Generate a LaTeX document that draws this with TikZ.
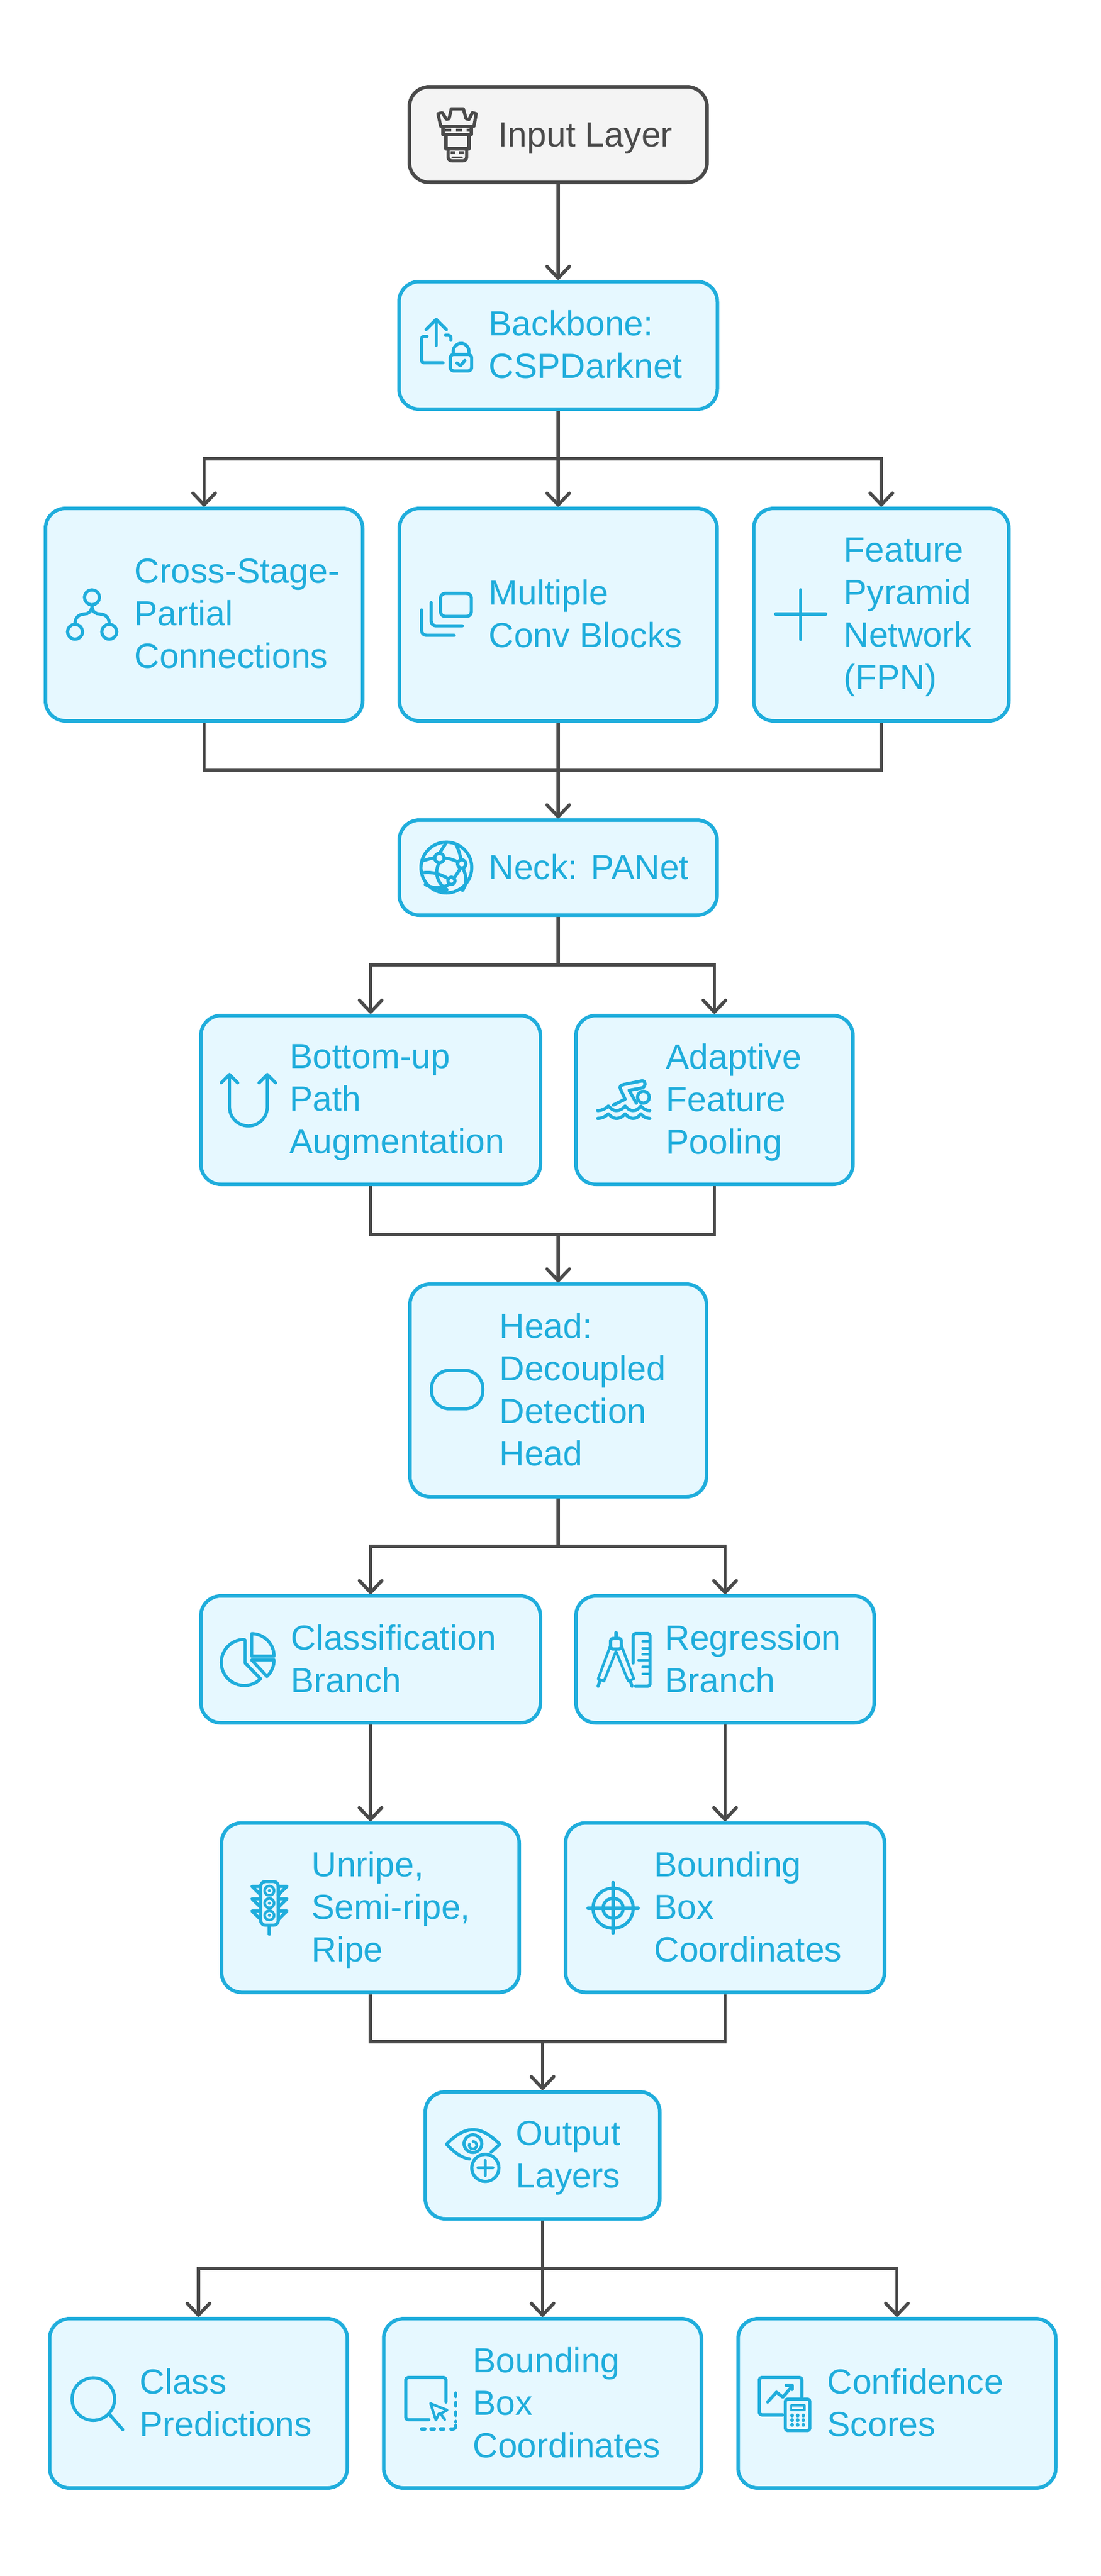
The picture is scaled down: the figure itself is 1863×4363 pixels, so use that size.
\documentclass[tikz,border=0pt]{standalone}
\usepackage{fontspec}
\setmainfont{Liberation Sans}
\usetikzlibrary{arrows.meta}
\definecolor{skyline}{HTML}{1FADDC}
\definecolor{skyfill}{HTML}{E6F8FF}
\definecolor{inkgray}{HTML}{4A4A4A}
\definecolor{palegray}{HTML}{F4F4F4}
\begin{document}
\begin{tikzpicture}[x=0.5pt,y=-0.5pt]
        \tikzset{block/.style = {shape=rectangle,draw=skyline,fill=skyfill,line width=3pt,rounded corners=17pt}}
        \tikzset{blockg/.style = {block,draw=inkgray,fill=palegray}}
        \tikzset{txt/.style = {anchor=west,inner sep=0pt,align=left,text=skyline,font=\fontsize{29.5pt}{36pt}\selectfont,execute at begin node=\strut,execute at end node=\strut}}
        \tikzset{txtg/.style = {txt,text=inkgray}}
        \tikzset{icon/.style = {draw=skyline,line width=2.7pt,line cap=round,line join=round}}
        \tikzset{icong/.style = {icon,draw=inkgray}}
        \tikzset{edge/.style = {draw=inkgray,line width=2.8pt}}
        \tikzset{edged/.style = {edge,-{Straight Barb[length=10pt,width=19pt,round]}}}
        \useasboundingbox (0,0) rectangle (1863,4363);
        % boxes
        \node[blockg,minimum width=252pt,minimum height=81pt] (inp) at (945,228) {};
        \node[block,minimum width=269.5pt,minimum height=108pt] (back) at (945,585) {};
        \node[block,minimum width=268.5pt,minimum height=180pt] (cross) at (345.5,1041) {};
        \node[block,minimum width=269pt,minimum height=180pt] (multi) at (945,1041) {};
        \node[block,minimum width=216pt,minimum height=180pt] (fpn) at (1492,1041) {};
        \node[block,minimum width=269pt,minimum height=80.5pt] (neck) at (945,1469.5) {};
        \node[block,minimum width=287.5pt,minimum height=143pt] (botup) at (627.5,1863) {};
        \node[block,minimum width=234.5pt,minimum height=143pt] (adapt) at (1209.5,1863) {};
        \node[block,minimum width=251pt,minimum height=180pt] (head) at (945,2355) {};
        \node[block,minimum width=287.5pt,minimum height=107.5pt] (clas) at (627.5,2810.5) {};
        \node[block,minimum width=252.5pt,minimum height=107.5pt] (regr) at (1227.5,2810.5) {};
        \node[block,minimum width=252pt,minimum height=143.5pt] (unrp) at (627,3231) {};
        \node[block,minimum width=270pt,minimum height=143.5pt] (bbox) at (1227.5,3231) {};
        \node[block,minimum width=198.5pt,minimum height=107.5pt] (outp) at (918.5,3650.5) {};
        \node[block,minimum width=252pt,minimum height=143.5pt] (clp) at (336,4070.5) {};
        \node[block,minimum width=269pt,minimum height=143.5pt] (bbc) at (918.5,4070.5) {};
        \node[block,minimum width=269pt,minimum height=143.5pt] (conf) at (1518.5,4070.5) {};
        % labels
        \node[txtg] (inpt) at (843,234) {Input Layer};
        \node[txt] (backt) at (827,594) {Backbone:\\CSPDarknet};
        \node[txt] (crosst) at (227,1050) {Cross-Stage-\\Partial\\Connections};
        \node[txt] (multit) at (827,1050) {Multiple\\Conv Blocks};
        \node[txt] (fpnt) at (1428,1050) {Feature\\Pyramid\\Network\\(FPN)};
        \node[txt] (neckt) at (827,1475.5) {Neck: PANet};
        \node[txt] (botupt) at (490,1872) {Bottom-up\\Path\\Augmentation};
        \node[txt] (adaptt) at (1127,1872) {Adaptive\\Feature\\Pooling};
        \node[txt] (headt) at (845,2364) {Head:\\Decoupled\\Detection\\Head};
        \node[txt] (clast) at (492,2819.5) {Classification\\Branch};
        \node[txt] (regrt) at (1125,2819.5) {Regression\\Branch};
        \node[txt] (unrpt) at (527,3240) {Unripe,\\Semi-ripe,\\Ripe};
        \node[txt] (bboxt) at (1107,3240) {Bounding\\Box\\Coordinates};
        \node[txt] (outpt) at (873,3659.5) {Output\\Layers};
        \node[txt] (clpt) at (236,4079.5) {Class\\Predictions};
        \node[txt] (bbct) at (800,4079.5) {Bounding\\Box\\Coordinates};
        \node[txt] (conft) at (1400,4079.5) {Confidence\\Scores};
        % junctions
        \coordinate (busa) at (945,777);
        \coordinate (busb) at (945,1304);
        \coordinate (busc) at (945,1634);
        \coordinate (busd) at (945,2091);
        \coordinate (buse) at (945,2619);
        \coordinate (busf) at (918.5,3458);
        \coordinate (busg) at (918.5,3842);
        %edges undirected
        \draw[edge] (back) -- (busa);
        \draw[edge] (cross) |- (busb);
        \draw[edge] (multi) -- (busb);
        \draw[edge] (fpn) |- (busb);
        \draw[edge] (neck) -- (busc);
        \draw[edge] (botup) |- (busd);
        \draw[edge] (adapt) |- (busd);
        \draw[edge] (head) -- (buse);
        \draw[edge] (unrp) |- (busf);
        \draw[edge] (bbox) |- (busf);
        \draw[edge] (outp) -- (busg);
        %edges directed
        \draw[edged] (inp) -- (back);
        \draw[edged] (busa) -| (cross);
        \draw[edged] (busa) -- (multi);
        \draw[edged] (busa) -| (fpn);
        \draw[edged] (busb) -- (neck);
        \draw[edged] (busc) -| (botup);
        \draw[edged] (busc) -| (adapt);
        \draw[edged] (busd) -- (head);
        \draw[edged] (buse) -| (clas);
        \draw[edged] (buse) -| (regr);
        \draw[edged] (clas) -- (unrp);
        \draw[edged] (regr) -- (bbox);
        \draw[edged] (busf) -- (outp);
        \draw[edged] (busg) -| (clp);
        \draw[edged] (busg) -- (bbc);
        \draw[edged] (busg) -| (conf);
        % icon input
        \draw[icong] (741.5,192.7) -- (748.8,190.8) -- (755.7,202.3) -- (760.3,201) -- (764.1,184.3) -- (784.4,184.3) -- (789,201) -- (794,202.3) -- (799.7,190.8) -- (806.2,192.7) -- (802.4,213.8) -- (746.1,213.8) -- cycle;
        \draw[icong] (750,213.8) -- (750,227.9) -- (797.8,227.9) -- (797.8,213.8);
        \draw[icong,line cap=butt,dash pattern=on 5pt off 4pt] (754,220.5) -- (796,220.5);
        \draw[icong] (755,228) -- (755,252) -- (794,252) -- (794,228);
        \draw[icong,rounded corners=3pt] (758.7,252) -- (758.7,272.3) -- (790,272.3) -- (790,252);
        \draw[icong,line cap=butt,dash pattern=on 4pt off 3pt] (763,258.5) -- (787,258.5);
        \draw[icong,line width=1.6pt] (766,266.5) -- (782,266.5);
        % icon backbone
        \draw[icon] (738.5,585) -- (738.5,541);
        \draw[icon] (721.2,558.2) -- (738.5,541) -- (755.7,558.2);
        \draw[icon,rounded corners=2pt] (723,569.7) -- (713.6,569.7) -- (713.6,614.4) -- (750,614.4);
        \draw[icon,rounded corners=2pt] (753.8,567.8) -- (763.3,567.8) -- (763.3,576.2);
        \draw[icon,rounded corners=3pt] (762.2,600.3) rectangle (798.5,628.2);
        \draw[icon] (767.2,600.3) -- (767.2,595) arc[start angle=180,end angle=0,radius=6.7pt] -- (794,600.3);
        \draw[icon] (773.7,614.8) -- (779.4,619.4) -- (787,610.6);
        % icon cross stage
        \draw[icon] (155.7,1011.7) circle[radius=6.35pt];
        \draw[icon] (127,1070) circle[radius=6.35pt];
        \draw[icon] (185,1070) circle[radius=6.35pt];
        \draw[icon] (155.7,1026) .. controls (155.7,1036) and (149,1040) .. (143,1040) .. controls (133,1040) and (127,1047) .. (127,1056);
        \draw[icon] (155.7,1026) .. controls (155.7,1036) and (162,1040) .. (169,1040) .. controls (179,1040) and (185,1047) .. (185,1056);
        % icon multiple
        \draw[icon,rounded corners=4pt] (745.7,1005) rectangle (798,1044);
        \draw[icon,rounded corners=4pt] (730,1020.7) -- (730,1060) -- (782.7,1060);
        \draw[icon,rounded corners=4pt] (713.7,1033) -- (713.7,1076) -- (769,1076);
        % icon plus
        \draw[icon] (1313,1040) -- (1398,1040);
        \draw[icon] (1355.5,999) -- (1355.5,1083);
        % icon neck
        \draw[icon] (755.7,1469.3) circle[radius=21.5pt];
        \draw[icon] (744,1453.3) circle[radius=4pt];
        \draw[icon] (781.7,1463.3) circle[radius=3.5pt];
        \draw[icon] (764.3,1491.7) circle[radius=3pt];
        \draw[icon] (755,1428) -- (744,1445);
        \draw[icon] (743.3,1461.7) .. controls (736,1475) and (738,1495) .. (756.7,1506.7);
        \draw[icon] (771.7,1430) .. controls (776,1438) and (779,1447) .. (780,1455);
        \draw[icon] (785,1473.3) .. controls (790,1485) and (791,1497) .. (783,1508);
        \draw[icon] (715,1458.3) .. controls (722,1456) and (729,1454) .. (735,1453);
        \draw[icon] (751.7,1453) .. controls (760,1454) and (768,1456) .. (775,1460);
        \draw[icon] (715,1478.3) .. controls (730,1476) and (746,1480) .. (758.3,1488);
        \draw[icon] (778.3,1473) -- (768.3,1488);
        \draw[icon] (760,1498) .. controls (748,1505) and (732,1505) .. (720,1498);
        \draw[icon] (743,1506.7) -- (755,1509);
        % icon bottom up
        \draw[icon] (388.5,1820) -- (388.5,1875) arc[start angle=180,end angle=360,radius=16pt] -- (452.5,1820);
        \draw[icon] (374.5,1834) -- (388.5,1820) -- (402.5,1834);
        \draw[icon] (438.5,1834) -- (452.5,1820) -- (466.5,1834);
        % icon adaptive
        \draw[icon] (1038.3,1871.7) -- (1058.3,1861.7) -- (1050.7,1845) .. controls (1048,1840) and (1051,1838) .. (1056.7,1836.7) -- (1086.7,1830.7) .. controls (1094,1830) and (1094,1841) .. (1086.7,1842.7) -- (1065,1846.7) -- (1077.3,1868.3);
        \draw[icon] (1089.3,1858.3) circle[radius=5pt];
        \foreach \dy in {0,13.3} {
          \draw[icon] (1011.7,1881+\dy) .. controls (1019,1881+\dy) and (1025,1878+\dy) .. (1030,1873.3+\dy) .. controls (1035,1878+\dy) and (1038,1881+\dy) .. (1043.3,1881+\dy) .. controls (1050,1881+\dy) and (1054,1878+\dy) .. (1058.3,1873.3+\dy) .. controls (1063,1878+\dy) and (1066,1881+\dy) .. (1071.7,1881+\dy) .. controls (1078,1881+\dy) and (1081,1878+\dy) .. (1085,1873.3+\dy) .. controls (1089,1878+\dy) and (1094,1881+\dy) .. (1100,1881+\dy);
        }
        % icon head
        \draw[icon,rounded corners=15pt] (730.6,2321) rectangle (817.3,2386);
        % icon classification
        \draw[icon] (415,2778) -- (415,2816.7) -- (441.2,2843.3) arc[start angle=-45,end angle=-270,radius=19.5pt];
        \draw[icon] (426,2805) -- (464,2805) arc[start angle=0,end angle=90,radius=19pt] -- cycle;
        \draw[icon] (426,2811.5) -- (464,2811.5) arc[start angle=0,end angle=-47,radius=19pt] -- cycle;
        % icon regression
        \draw[icon,rounded corners=2pt] (1072,2816.7) -- (1072,2766.7) -- (1100.5,2766.7) -- (1100.5,2856) -- (1075.8,2856);
        \foreach \ty/\tx in {2780/1088,2791.7/1088,2801.7/1088,2811.7/1081,2823.3/1088,2835/1088} {
          \draw[icon,line width=2.2pt] (1100.5,\ty) -- (\tx,\ty);
        }
        \draw[icon] (1043,2765) -- (1043,2775);
        \draw[icon,rounded corners=2pt] (1033.6,2775) rectangle (1052,2793);
        \draw[icon,line width=2.2pt] (1033.6,2786.7) -- (1012.7,2843.3) -- (1022.6,2847.3) -- (1042.8,2796.7) -- (1063.7,2847.3) -- (1073,2843.3) -- (1052,2786.7);
        \draw[icon] (1015.5,2846.7) -- (1012.7,2856);
        \draw[icon] (1067,2846.7) -- (1070,2856);
        % icon unripe
        \draw[icon,rounded corners=4pt] (441.3,3186.7) rectangle (471.1,3260.7);
        \foreach \ly in {3202.3,3223.3,3244} {
          \draw[icon,line width=2.2pt] (456,\ly) circle[radius=4pt];
          \fill[skyline] (456,\ly) circle[radius=1.3pt];
          \draw[icon] (441.3,\ly-7.3) -- (426.6,\ly-7.3) -- (441.3,\ly+7);
          \draw[icon] (471.1,\ly-7.3) -- (485.8,\ly-7.3) -- (471.1,\ly+7);
        }
        \draw[icon] (456,3261) -- (456,3276);
        % icon target
        \draw[icon] (1038,3232) circle[radius=17pt];
        \draw[icon] (1038,3232) circle[radius=8.5pt];
        \draw[icon] (995.3,3232) -- (1080.7,3232);
        \draw[icon] (1038,3188.3) -- (1038,3274);
        % icon output
        \draw[icon] (795,3656.7) .. controls (778,3654) and (766,3642) .. (756,3631.7) .. controls (770,3617) and (785,3607) .. (801,3607) .. controls (817,3607) and (833,3618) .. (846,3631.7) -- (831.7,3645);
        \draw[icon] (800.7,3630.7) circle[radius=7.5pt];
        \draw[icon,line width=2.2pt] (800.7,3627) arc[start angle=90,end angle=-200,radius=3.2pt];
        \draw[icon] (821.7,3671.7) circle[radius=11.5pt];
        \draw[icon] (809.3,3671.7) -- (834.3,3671.7);
        \draw[icon] (821.7,3659.3) -- (821.7,3684.3);
        % icon class predictions
        \draw[icon] (158,4063.3) circle[radius=18pt];
        \draw[icon] (185.4,4089.3) -- (207.8,4115);
        % icon bounding box
        \draw[icon,rounded corners=2pt] (725.9,4098.3) -- (687,4098.3) -- (687,4026.7) -- (755,4026.7) -- (755,4068.3);
        \draw[icon,dash pattern=on 3pt off 5pt] (771.5,4053) -- (771.5,4102);
        \draw[icon,dash pattern=on 3pt off 5pt] (713.5,4114) -- (760,4114);
        \draw[icon,rounded corners=2pt] (763,4114) -- (771.5,4114) -- (771.5,4108);
        \draw[icon,line width=2.2pt] (729,4071) -- (757,4082) -- (746,4088) -- (753,4098);
        \draw[icon,line width=2.2pt] (729,4071) -- (738,4099) -- (743,4088) -- (746,4088);
        % icon confidence
        \draw[icon,rounded corners=2pt] (1325,4090) -- (1285.5,4090) -- (1285.5,4026.7) -- (1357.6,4026.7) -- (1357.6,4060);
        \draw[icon] (1299.6,4068.3) -- (1314.5,4051.7) -- (1325.3,4060) -- (1341,4041.7);
        \draw[icon] (1331,4040) -- (1341,4040) -- (1341,4047);
        \draw[icon,rounded corners=2pt] (1329.5,4063.3) rectangle (1371,4116.7);
        \draw[icon,line width=1.8pt] (1339.4,4074) rectangle (1361.8,4082);
        \foreach \px in {1341,1350.5,1360} {
          \foreach \py in {4091,4099,4107} {
            \fill[skyline] (\px,\py) circle[radius=1.6pt];
          }
        }
\end{tikzpicture}
\end{document}
